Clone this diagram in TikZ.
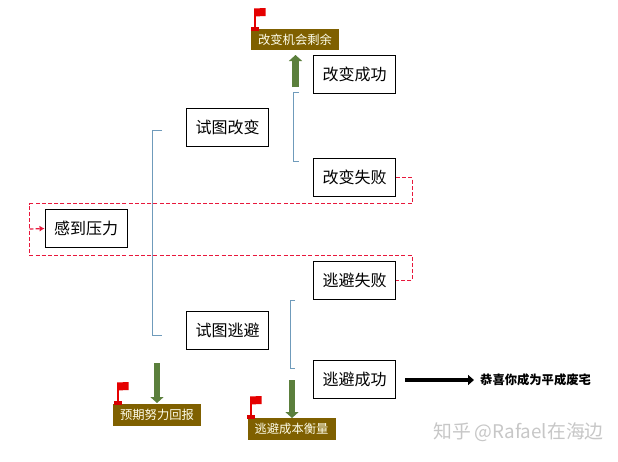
\documentclass[tikz,border=0pt]{standalone}
\usepackage{fontspec}
\setmainfont{Noto Sans CJK SC}
\usetikzlibrary{arrows.meta}
\definecolor{tan}{HTML}{7F6000}
\definecolor{grn}{HTML}{5B7F3C}
\definecolor{brk}{HTML}{6F9BBB}
\definecolor{redd}{HTML}{E8183C}
\tikzset{
 box/.style={draw=black,line width=0.9pt,fill=white,minimum width=82pt,minimum height=38.5pt,inner sep=0pt,font=\fontsize{16}{17}\selectfont},
 tag/.style={fill=tan,text=white!92!yellow,minimum width=88pt,minimum height=21.5pt,inner sep=0pt,font=\fontsize{12.3}{13}\selectfont},
 brack/.style={draw=brk,line width=1pt},
 loopline/.style={draw=redd,line width=1.2pt,dash pattern=on 4pt off 2.2pt},
 bigarrow/.style={draw=grn,line width=6.5pt,-{Triangle[length=6pt,width=13pt]}},
 blackarrow/.style={draw=black,line width=4.5pt,-{Triangle[length=6pt,width=10pt]}},
 flagstem/.style={draw=red!90!black,line width=2pt},
 flagcloth/.style={fill=red!90!black},
 flagbase/.style={fill=red!85!black}
}
\newcommand{\flagat}[2]{%
 \draw[flagstem] (#1,#2) -- (#1,#2-18);
 \fill[flagcloth] (#1-1,#2-19.5) -- (#1+10.5,#2-20) -- (#1+10.5,#2-12) -- (#1-1,#2-11.5) -- cycle;
 \fill[flagbase] (#1-4,#2+3) rectangle (#1+4,#2-1);
}
\begin{document}
\begin{tikzpicture}[x=1pt,y=-1pt]
\useasboundingbox (0,0) rectangle (618,461);
\fill[white] (0,0) rectangle (618,461);
% dashed loop first
\coordinate (tr) at (412.5,203.5);
\coordinate (tl) at (29.5,203.5);
\coordinate (bl) at (29.5,255.5);
\coordinate (br) at (412.5,255.5);
\coordinate (arrowfoot) at (29.5,229);
\node[box] (stress) at (86,228.5) {感到压力};
\node[box] (tryc) at (227.5,127.5) {试图改变};
\node[box] (tryf) at (227.5,330.5) {试图逃避};
\node[box] (cok) at (354.5,74.5) {改变成功};
\node[box] (cfail) at (354.5,177.5) {改变失败};
\node[box] (ffail) at (354.5,280.5) {逃避失败};
\node[box] (fok) at (354.5,379.5) {逃避成功};
\draw[loopline] (cfail.east) -| (tr) -- (tl) -- (bl) -- (br) |- (ffail.east);
\draw[loopline,-{Latex[length=5pt,width=6pt]}] (arrowfoot) -- (stress.west);
% brackets
\coordinate (b1a) at (162,130.5); \coordinate (b1b) at (152.5,130.5); \coordinate (b1c) at (152.5,335.5); \coordinate (b1d) at (162,335.5);
\draw[brack] (b1a) -- (b1b) -- (b1c) -- (b1d);
\coordinate (b2a) at (299,92.5); \coordinate (b2b) at (293.5,92.5); \coordinate (b2c) at (293.5,161.5); \coordinate (b2d) at (299,161.5);
\draw[brack] (b2a) -- (b2b) -- (b2c) -- (b2d);
\coordinate (b3a) at (295,300.5); \coordinate (b3b) at (290.5,300.5); \coordinate (b3c) at (290.5,368.5); \coordinate (b3d) at (295,368.5);
\draw[brack] (b3a) -- (b3b) -- (b3c) -- (b3d);
% tags
\node[tag] (t1) at (295,39.5) {改变机会剩余};
\node[tag] (t2) at (157,415) {预期努力回报};
\node[tag] (t3) at (291.5,429) {逃避成本衡量};
% green arrows
\coordinate (g1) at (295.5,87); \coordinate (g1e) at (295.5,55);
\coordinate (g2) at (157,363); \coordinate (g2e) at (157,403);
\coordinate (g3) at (292,380); \coordinate (g3e) at (292,418);
\draw[bigarrow] (g1) -- (g1e);
\draw[bigarrow] (g2) -- (g2e);
\draw[bigarrow] (g3) -- (g3e);
% flags
\flagat{255}{28}
\flagat{118}{402}
\flagat{251}{416}
% result
\coordinate (k1) at (405,380);
\node[inner sep=0pt,anchor=west,font=\fontsize{12.3}{13}\selectfont\bfseries] (res) at (480,379.5) {恭喜你成为平成废宅};
\draw[blackarrow] (k1) -- (474,380);
\node[inner sep=0pt,anchor=west,text=black!22,font=\fontsize{18.8}{20}\selectfont] (wm) at (433,432) {知乎 @Rafael在海边};
\end{tikzpicture}
\end{document}
